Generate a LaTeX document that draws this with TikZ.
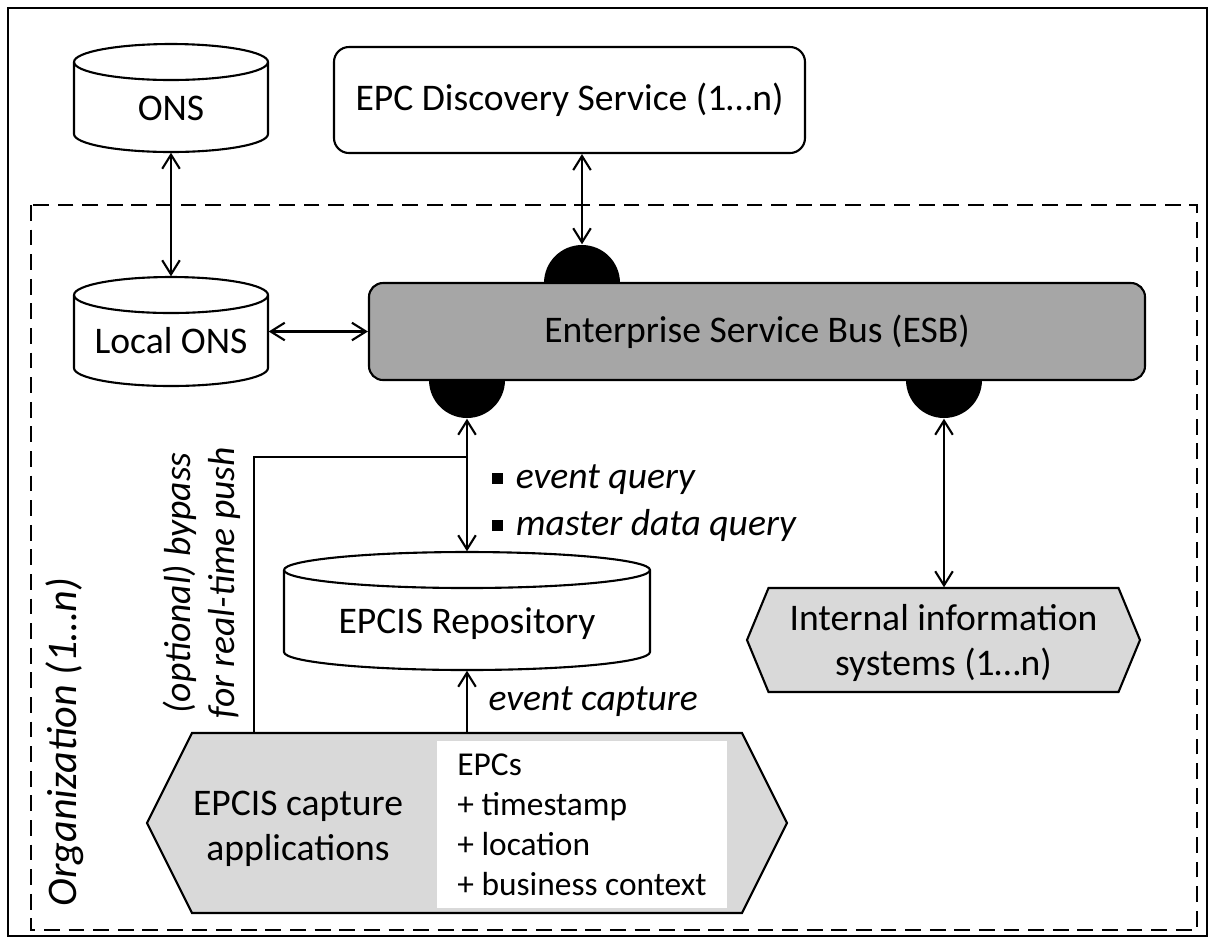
\documentclass[tikz,border=0pt]{standalone}
\usepackage{fontspec}
\setmainfont{Carlito}
\usetikzlibrary{arrows.meta}

\definecolor{busgray}{RGB}{166,166,166}
\definecolor{boxgray}{RGB}{217,217,217}

\tikzset{
	outline/.style = {line width=0.6pt},
	link/.style = {outline, {Straight Barb[length=4pt,width=5pt]}-{Straight Barb[length=4pt,width=5pt]}},
	uplink/.style = {outline, -{Straight Barb[length=4pt,width=5pt]}},
	store/.style = {inner sep=0pt, text height=12.6pt, text depth=0pt},
	hexlabel/.style = {inner sep=0pt, align=center, text height=22pt},
	port/.style = {circle, fill=black, minimum size=0.76cm, inner sep=0pt},
	bus/.style = {draw, outline, rounded corners=0.14cm, fill=busgray, minimum width=7.76cm, minimum height=0.97cm},
	group/.style = {outline, dash pattern=on 4.5pt off 2.5pt},
}

\newcommand{\sqbullet}{\rule[1.4pt]{3.2pt}{3.2pt}\hspace{3.7pt}}

% cylinder: name, x, y, width, height, text
\newcommand{\Store}[6]{%
	\draw[outline, fill=white] (#2-#4/2,#3+#5/2-0.18) -- (#2-#4/2,#3-#5/2+0.18)
		arc[start angle=180, end angle=360, x radius=#4/2, y radius=0.18]
		-- (#2+#4/2,#3+#5/2-0.18)
		arc[start angle=0, end angle=180, x radius=#4/2, y radius=0.18];
	\draw[outline] (#2-#4/2,#3+#5/2-0.18)
		arc[start angle=180, end angle=360, x radius=#4/2, y radius=0.18];
	\node[store, minimum width=#4cm, minimum height=#5cm] (#1) at (#2,#3) {#6};
}

% hexagon: name, x, y, width, height, indent, text
\newcommand{\Hex}[7]{%
	\draw[outline, fill=boxgray] (#2-#4/2,#3) -- (#2-#4/2+#6,#3+#5/2) -- (#2+#4/2-#6,#3+#5/2)
		-- (#2+#4/2,#3) -- (#2+#4/2-#6,#3-#5/2) -- (#2-#4/2+#6,#3-#5/2) -- cycle;
	\node[hexlabel, minimum width=#4cm, minimum height=#5cm] (#1) at (#2,#3) {#7};
}

\begin{document}
\fontsize{10.7}{12.8}\selectfont
\begin{tikzpicture}
	\useasboundingbox (0,0) rectangle (12.15,-9.43);
	\draw[line width=0.8pt] (0.08,-0.08) rectangle (12.07,-9.36);
	\draw[group] (0.31,-2.05) rectangle (11.97,-9.30);
	\node[rotate=90, font=\fontsize{12}{14}\selectfont\itshape] (org) at (0.65,-7.42) {Organization (1…n)};

	\Store{ons}{1.71}{-0.98}{1.94}{1.08}{ONS}
	\Store{lons}{1.71}{-3.315}{1.94}{1.09}{Local ONS}
	\Store{repo}{4.67}{-6.11}{3.66}{1.18}{EPCIS Repository}
	\node[draw, outline, rounded corners=0.15cm, minimum width=4.71cm, minimum height=1.06cm] (eds) at (5.695,-1.00) {EPC Discovery Service (1…n)};

	\node[port] (pt) at (5.82,-2.83) {};
	\node[port] (pl) at (4.67,-3.80) {};
	\node[port] (pr) at (9.44,-3.80) {};
	\node[bus] (esb) at (7.57,-3.315) {Enterprise Service Bus (ESB)};

	\Hex{iis}{9.435}{-6.40}{3.93}{1.04}{0.215}{Internal information\\systems (1…n)}
	\Hex{cap}{4.67}{-8.23}{6.40}{1.80}{0.45}{}
	\node[align=center] (capt) at (2.98,-8.29) {EPCIS capture\\applications};
	\node[fill=white, minimum width=2.90cm, minimum height=1.65cm, align=left,
		font=\fontsize{9.5}{11.4}\selectfont] (epcs) at (5.82,-8.245) {EPCs\\+ timestamp\\+ location\\+ business context};

	% connectors
	\coordinate (turn) at (2.54,-4.57);
	\draw[link] (ons) -- (lons);
	\draw[link] (lons) -- (esb);
	\draw[link] (eds.south -| pt) -- (pt.north);
	\draw[link] (pl.south) -- (repo.north);
	\draw[link] (pr.south) -- (pr.south |- iis.north);
	\draw[uplink] (cap.north -| repo) -- node[right=0.08cm, font=\itshape] {event capture} (repo.south);
	\draw[outline] (turn |- cap.north) -- (turn) -- (turn -| pl);
	\node[rotate=90, align=center, font=\fontsize{10.7}{12.5}\selectfont\itshape] (byp) at (2.02,-5.83) {(optional) bypass\\for real-time push};
	\node[anchor=west, align=left, inner sep=0pt, font=\fontsize{10.7}{13.4}\selectfont\itshape] (qry) at (4.91,-5.035) {\sqbullet event query\\\sqbullet master data query};
\end{tikzpicture}
\end{document}
